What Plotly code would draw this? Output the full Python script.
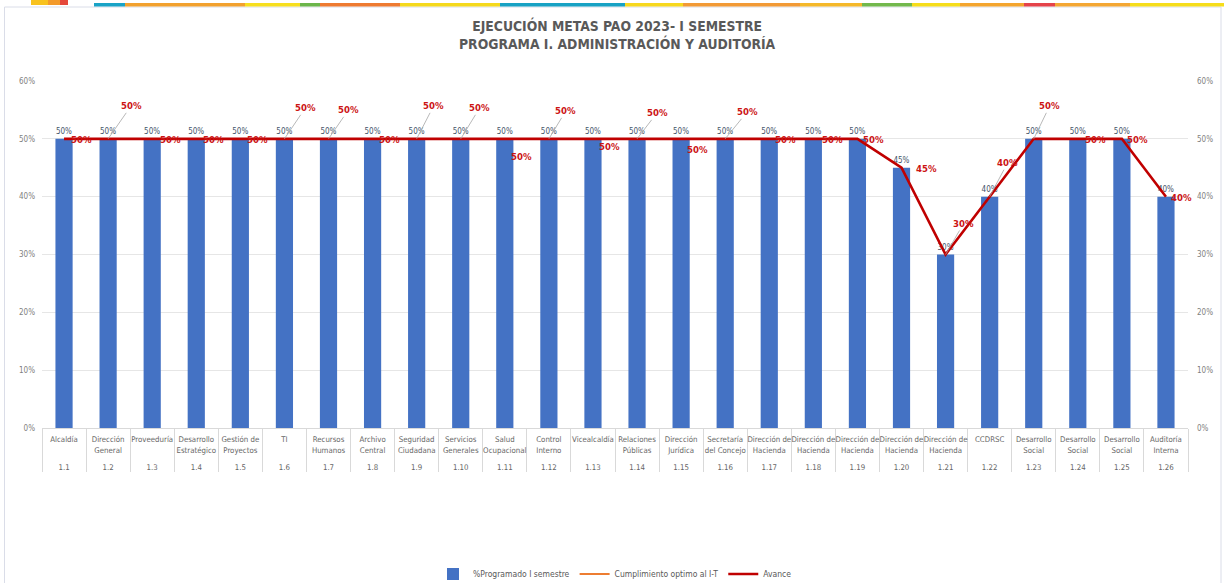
import plotly.graph_objects as go

# ---------------- data ----------------
codes = ["1.1", "1.2", "1.3", "1.4", "1.5", "1.6", "1.7", "1.8", "1.9", "1.10",
         "1.11", "1.12", "1.13", "1.14", "1.15", "1.16", "1.17", "1.18", "1.19",
         "1.20", "1.21", "1.22", "1.23", "1.24", "1.25", "1.26"]
names = ["Alcaldía", "Dirección<br>General", "Proveeduría", "Desarrollo<br>Estratégico",
         "Gestión de<br>Proyectos", "TI", "Recursos<br>Humanos", "Archivo<br>Central",
         "Seguridad<br>Ciudadana", "Servicios<br>Generales", "Salud<br>Ocupacional",
         "Control<br>Interno", "Vicealcaldía", "Relaciones<br>Públicas", "Dirección<br>Jurídica",
         "Secretaría<br>del Concejo", "Dirección de<br>Hacienda", "Dirección de<br>Hacienda",
         "Dirección de<br>Hacienda", "Dirección de<br>Hacienda", "Dirección de<br>Hacienda",
         "CCDRSC", "Desarrollo<br>Social", "Desarrollo<br>Social", "Desarrollo<br>Social",
         "Auditoría<br>Interna"]
programado = [0.50, 0.50, 0.50, 0.50, 0.50, 0.50, 0.50, 0.50, 0.50, 0.50,
              0.50, 0.50, 0.50, 0.50, 0.50, 0.50, 0.50, 0.50, 0.50,
              0.45, 0.30, 0.40, 0.50, 0.50, 0.50, 0.40]
avance = [0.50, 0.50, 0.50, 0.50, 0.50, 0.50, 0.50, 0.50, 0.50, 0.50,
          0.50, 0.50, 0.50, 0.50, 0.50, 0.50, 0.50, 0.50, 0.50,
          0.45, 0.30, 0.40, 0.50, 0.50, 0.50, 0.40]
cumplimiento = [None] * len(codes)
y_ticks = [0, 0.1, 0.2, 0.3, 0.4, 0.5, 0.6]

# ------------- label placement styles (px offsets, leader line flag) -------------
label_style = [(17, 1, False), (23, -33, True), (18, 1, False), (17, 1, False), (17, 1, False),
               (21, -31, True), (20, -29, True), (17, 1, False), (17, -33, True), (19, -31, True),
               (17, 18, False), (17, -28, True), (17, 8, False), (20, -26, True), (16, 11, False),
               (22, -27, True), (16, 1, False), (19, 1, False), (16, 1, False), (25, 1, False),
               (18, -31, True), (18, -34, True), (16, -33, True), (18, 1, False), (16, 1, False),
               (16, 1, False)]

FONT = "Liberation Sans Narrow, DejaVu Sans Condensed, Arial Narrow, sans-serif"
W, H = 1224, 583
ML, MR, MT, MB = 42, 36, 81, 155
PW, PH = W - ML - MR, H - MT - MB


def px(x):
    return (x - ML) / PW


def py(y):
    return (H - MB - y) / PH


# inner labels get an extra blank line so the code row sits lower, like the original
name_labels = [n + "<br>&nbsp;" for n in names]
xcat = [codes, name_labels]

fig = go.Figure()
fig.add_trace(go.Bar(
    x=xcat, y=programado, name="%Programado I semestre",
    marker=dict(color="#4472C4", line=dict(width=0)), width=0.39,
    texttemplate="%{y:.0%}", textposition="outside",
    textfont=dict(size=8, color="#44546A", family=FONT), cliponaxis=False,
))
fig.add_trace(go.Scatter(
    x=xcat, y=cumplimiento, name="Cumplimiento optimo al I-T", mode="lines",
    line=dict(color="#ED7D31", width=2.2), yaxis="y2",
))
fig.add_trace(go.Scatter(
    x=xcat, y=avance, name="Avance", mode="lines",
    line=dict(color="#C00000", width=2.6), yaxis="y2",
))

annotations = []
for i, v in enumerate(avance):
    dx, dy, leader = label_style[i]
    txt = f"{v:.0%}"
    if leader:
        annotations.append(dict(
            x=i, y=v, xref="x", yref="y", text=txt, showarrow=True, arrowhead=0,
            arrowwidth=0.8, arrowcolor="#A6A6A6", ax=dx, ay=dy, standoff=0,
            font=dict(size=9.5, color="#CC1414", family=FONT, weight="bold"),
        ))
    else:
        annotations.append(dict(
            x=i, y=v, xref="x", yref="y", text=txt, showarrow=False,
            xshift=dx, yshift=-dy,
            font=dict(size=9.5, color="#CC1414", family=FONT, weight="bold"),
        ))

annotations.append(dict(
    x=px(617), y=py(34.5), xref="paper", yref="paper", showarrow=False,
    text="EJECUCIÓN METAS PAO 2023- I SEMESTRE<br>PROGRAMA I. ADMINISTRACIÓN Y AUDITORÍA",
    font=dict(size=13.8, color="#595959", family=FONT, weight="bold"),
    xanchor="center", yanchor="middle",
))

# decorative header stripe and frame
stripe = [(94, 125, "#19A3C6"), (125, 245, "#F2A12E"), (245, 300, "#F7DF1E"), (300, 320, "#6BB54A"),
          (320, 400, "#EE7A30"), (400, 500, "#F5D91C"), (500, 625, "#17A2C4"), (625, 683, "#F7D81D"),
          (683, 800, "#F29A35"), (800, 862, "#F5B82A"), (862, 912, "#72B84C"), (912, 960, "#F6DD1A"),
          (960, 1024, "#F4A52E"), (1024, 1055, "#E5434A"), (1055, 1130, "#F4A733"), (1130, 1224, "#F6DD1A")]
shapes = []
for a, b, c in stripe:
    shapes.append(dict(type="rect", xref="paper", yref="paper", x0=px(a), x1=px(b),
                       y0=py(6.5), y1=py(3), fillcolor=c, line=dict(width=0), layer="above"))
for a, b, c in [(31, 48, "#F8C21E"), (48, 60, "#F39A2A"), (60, 68, "#E5483A")]:
    shapes.append(dict(type="rect", xref="paper", yref="paper", x0=px(a), x1=px(b),
                       y0=py(5), y1=py(0), fillcolor=c, line=dict(width=0), layer="above"))
shapes.append(dict(type="rect", xref="paper", yref="paper", x0=px(4.5), x1=px(1221),
                   y0=py(590), y1=py(7), line=dict(color="#DADDE8", width=1),
                   fillcolor="rgba(0,0,0,0)", layer="below"))

axis_font = dict(size=8, color="#7F7F7F", family=FONT)
fig.update_layout(
    width=W, height=H,
    margin=dict(l=ML, r=MR, t=MT, b=MB, autoexpand=False),
    paper_bgcolor="white", plot_bgcolor="white",
    font=dict(family=FONT, color="#595959"),
    bargap=0.5,
    showlegend=True,
    legend=dict(orientation="h", x=0.5, xanchor="center", y=py(574), yanchor="middle",
                font=dict(size=8.5, color="#595959", family=FONT), itemwidth=30,
                traceorder="normal"),
    xaxis=dict(type="multicategory", tickfont=dict(size=7.8, color="#666666", family=FONT),
               tickangle=0, ticklabelstandoff=4,
               showline=True, linecolor="#D9D9D9", linewidth=1, showgrid=False,
               showdividers=True, dividercolor="#D9D9D9", dividerwidth=1,
               ticks="", range=[-0.5, len(codes) - 0.5]),
    yaxis=dict(range=[0, 0.6], tickvals=y_ticks, tickformat=".0%", tickfont=axis_font,
               showgrid=True, gridcolor="#E6E6E6", gridwidth=1, zeroline=False,
               showline=False, ticklabelstandoff=6),
    yaxis2=dict(range=[0, 0.6], tickvals=y_ticks, tickformat=".0%", tickfont=axis_font,
                overlaying="y", side="right", showgrid=False, zeroline=False,
                showline=False, ticklabelstandoff=8),
    annotations=annotations,
    shapes=shapes,
)

fig.write_html(
    "out.html",
    config={"displayModeBar": False},
    post_script="document.body.style.margin='0';document.body.style.overflow='hidden';",
)
